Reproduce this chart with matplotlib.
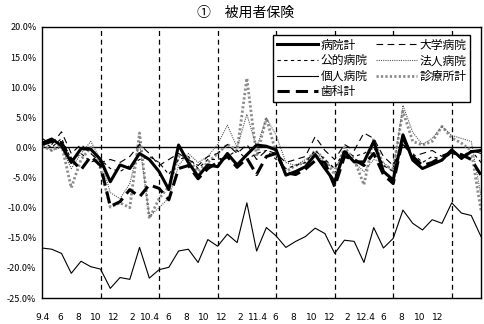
import matplotlib
matplotlib.use("Agg")
import matplotlib.pyplot as plt
from matplotlib.ticker import FuncFormatter, MultipleLocator

plt.rcParams["font.family"] = ["Noto Sans CJK JP", "DejaVu Sans"]

# monthly growth rates (%), H9.4 - H13.1
months = list(range(46))

byoin_kei = [0.7, 1.4, 0.3, -2.5, -0.2, -0.3, -2.0, -5.7, -2.9, -3.5,
             -1.0, -2.0, -4.0, -7.0, 0.4, -2.5, -4.8, -2.9, -3.2, -1.0,
             -2.9, -1.2, 0.4, 0.2, -0.4, -4.6, -4.0, -3.2, -1.2, -3.5,
             -5.7, -0.7, -2.4, -2.4, 1.0, -4.0, -5.4, 2.1, -2.1, -3.5,
             -2.8, -2.1, -0.4, -1.8, -0.7, -0.5]
daigaku = [1.5, 0.5, 2.6, -1.0, 0.5, -1.0, -2.5, -2.0, -2.5, -1.5,
           0.5, -1.0, -3.0, -2.0, -1.0, -2.0, -3.0, -1.5, -1.0, 0.5,
           -1.0, 0.5, -2.0, -0.5, -1.0, -2.5, -2.0, -1.5, 1.8, -0.5,
           -2.0, 0.5, -0.5, 2.4, 1.5, -1.5, -3.0, 0.5, -1.5, -1.0,
           -0.5, -1.5, -0.5, -2.0, -0.5, -1.0]
koteki = [1.0, 0.0, 1.5, -2.0, -1.0, -2.4, -2.0, -3.5, -4.0, -3.0,
          -2.0, -1.5, -2.5, -4.5, -2.0, -1.5, -3.5, -2.0, -2.0, -1.5,
          -0.5, -2.0, -1.0, -0.5, -2.0, -3.5, -3.0, -2.5, -0.5, -2.0,
          -3.5, -0.5, -1.5, -1.0, 0.0, -3.0, -4.0, 0.5, -1.0, -2.5,
          -1.5, -2.0, -1.0, -1.5, -0.5, -2.5]
hojin = [0.5, -0.5, 0.0, -3.5, -1.0, 1.0, -2.0, -7.5, -8.5, -6.0,
         0.8, -11.5, -10.0, -8.4, -3.0, -1.0, -2.5, -1.5, 0.5, 3.7,
         0.0, 5.5, 0.0, 4.9, 2.0, -2.5, -3.0, -2.0, -1.0, -2.5,
         -3.5, -1.0, -2.5, -4.0, -2.0, -2.5, -4.0, 7.0, 2.5, 0.5,
         1.5, 3.5, 2.0, 1.5, 1.0, -8.0]
kojin = [-16.7, -16.9, -17.6, -20.9, -18.9, -19.8, -20.2, -23.4, -21.6, -21.9,
         -16.6, -21.7, -20.3, -19.9, -17.2, -16.9, -19.1, -15.3, -16.4, -14.4,
         -15.8, -9.2, -17.2, -13.3, -14.7, -16.6, -15.6, -14.8, -13.4, -14.3,
         -17.6, -15.4, -15.6, -19.1, -13.3, -16.7, -15.1, -10.4, -12.6, -13.7,
         -12.0, -12.6, -9.2, -10.9, -11.3, -14.8]
shinryojo = [0.2, -0.5, 0.5, -6.7, -2.0, 0.0, -3.5, -9.9, -9.2, -10.0,
             2.4, -11.8, -8.5, -6.5, -1.5, -2.0, -4.0, -2.5, -1.0, 0.5,
             -0.5, 11.5, -1.5, 4.9, -1.0, -4.0, -3.0, -2.5, -0.5, -2.0,
             -4.5, 0.0, -2.0, -6.2, 1.5, -3.0, -3.5, 6.0, 1.0, 0.4,
             1.0, 3.5, 1.6, 0.7, -0.5, -10.5]
shika = [0.5, 1.0, 0.8, -2.0, -3.7, -1.5, -3.0, -9.8, -9.0, -7.0,
         -8.2, -6.2, -6.8, -8.7, -3.5, -3.0, -5.2, -3.5, -2.5, -1.5,
         -3.3, -1.8, -4.5, -1.5, -1.0, -4.2, -4.5, -3.6, -2.2, -2.5,
         -6.5, -1.5, -2.0, -3.0, -1.0, -4.5, -6.0, 1.5, -1.5, -3.0,
         -2.5, -1.5, -0.8, -1.2, -2.0, -4.6]

month_labels = ["9.4", "6", "8", "10", "12", "2", "10.4", "6", "8", "10", "12", "2",
                "11.4", "6", "8", "10", "12", "2", "12.4", "6", "8", "10", "12"]
half_years = [6, 12, 18, 24, 30, 36, 42]

fig = plt.figure(figsize=(4.84, 3.24), dpi=100)
ax = fig.add_axes([42 / 484, 26 / 324, 439 / 484, 271 / 324])

ax.axhline(0, color="black", lw=1, zorder=1)
for m in half_years:
    ax.axvline(m, color="black", lw=0.9, ls=(0, (4, 3)), zorder=1)

ax.plot(months, shinryojo, color="0.55", lw=2.0, ls=(0, (0.8, 0.8)), label="診療所計", zorder=2)
ax.plot(months, hojin, color="0.35", lw=0.8, ls=(0, (1, 1)), label="法人病院", zorder=2)
ax.plot(months, daigaku, color="black", lw=0.8, ls=(0, (6, 4)), label="大学病院", zorder=3)
ax.plot(months, koteki, color="black", lw=0.8, ls=(0, (3, 3)), label="公的病院", zorder=3)
ax.plot(months, kojin, color="black", lw=0.8, label="個人病院", zorder=3)
ax.plot(months, shika, color="black", lw=2.2, ls=(0, (4, 2)), label="歯科計", zorder=4)
ax.plot(months, byoin_kei, color="black", lw=2.2, label="病院計", zorder=5)

ax.set_xlim(0, 45)
ax.set_ylim(-25, 20)
ax.yaxis.set_major_locator(MultipleLocator(5))
ax.yaxis.set_major_formatter(FuncFormatter(lambda v, p: f"{v:.1f}%"))
ax.tick_params(axis="y", length=0, pad=4, labelsize=6.5)
ax.set_xticks([])
for sp in ax.spines.values():
    sp.set_linewidth(1)
    sp.set_color("black")

# month labels run on their own evenly spaced row under the plot
axl = ax.twiny()
axl.xaxis.set_ticks_position("bottom")
axl.set_xlim(0.166, 24.42)
axl.set_xticks(range(len(month_labels)))
axl.set_xticklabels(month_labels, family=["Liberation Sans Narrow", "DejaVu Sans"])
axl.tick_params(axis="x", length=0, pad=11, labelsize=6.5)
for sp in axl.spines.values():
    sp.set_visible(False)

order = ["病院計", "公的病院", "個人病院", "歯科計", "大学病院", "法人病院", "診療所計"]
handles, labels = ax.get_legend_handles_labels()
lookup = dict(zip(labels, handles))
leg = ax.legend([lookup[k] for k in order], order, ncol=2, loc="upper right",
                bbox_to_anchor=(428 / 439, 263 / 271), borderaxespad=0,
                fontsize=8.5, handlelength=3.5, handletextpad=0.2, columnspacing=0.7,
                labelspacing=0.22, borderpad=0.3, fancybox=False, framealpha=1)
leg.get_frame().set_edgecolor("black")
leg.get_frame().set_linewidth(1)
leg.set_zorder(10)

fig.text(0.508, 0.962, "①　被用者保険", ha="center", va="center", fontsize=10)

fig.savefig("out.png", dpi=100)
